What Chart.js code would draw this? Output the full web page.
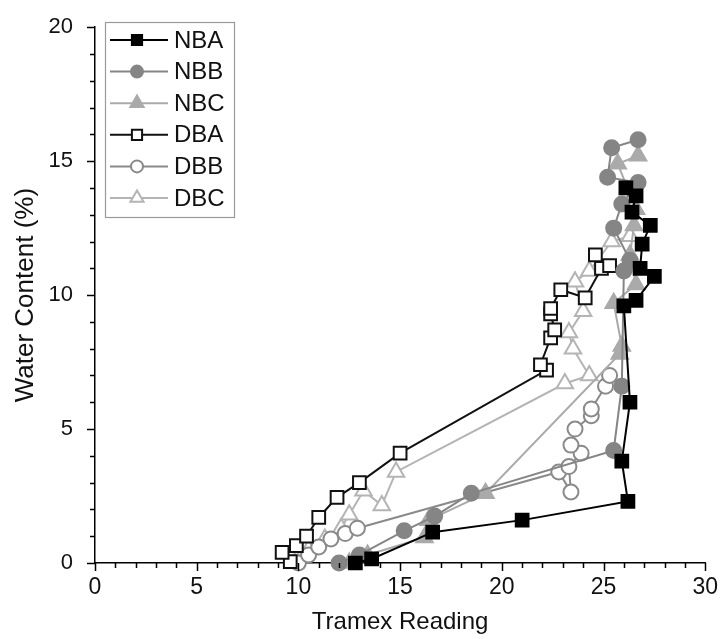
<!DOCTYPE html>
<html>
<head>
<meta charset="utf-8">
<script src="https://cdn.jsdelivr.net/npm/chart.js@4"></script>
<style>
  html, body { margin: 0; padding: 0; background: #fff; }
  #wrap { width: 721px; height: 639px; }
</style>
</head>
<body>
<div id="wrap"><canvas id="c" width="721" height="639"></canvas></div>
<script>
// series names
const seriesNames = ["NBA", "NBB", "NBC", "DBA", "DBB", "DBC"];

// [Tramex reading, water content %]
const nbaX = [12.8, 13.6, 16.6, 21.0, 26.2, 25.9, 26.3, 26.0, 26.6, 27.5, 26.8, 26.9, 27.3, 26.4, 26.6, 26.1];
const nbaY = [0.0, 0.15, 1.15, 1.6, 2.3, 3.8, 6.0, 9.6, 9.8, 10.7, 11.0, 11.9, 12.6, 13.1, 13.7, 14.0];

const nbbX = [12.0, 13.0, 15.2, 16.7, 18.5, 25.5, 25.9, 26.0, 26.3, 25.5, 25.9, 26.7, 25.2, 25.4, 26.7];
const nbbY = [0.0, 0.3, 1.2, 1.75, 2.6, 4.2, 6.6, 10.9, 11.3, 12.5, 13.4, 14.2, 14.4, 15.5, 15.8];

const nbcX = [12.5, 13.4, 16.2, 16.4, 19.2, 25.8, 25.9, 25.5, 26.6, 26.3, 26.5, 26.6, 25.7, 26.7];
const nbcY = [0.0, 0.3, 0.95, 1.6, 2.6, 7.8, 8.1, 9.7, 10.4, 11.5, 12.6, 13.2, 14.9, 15.2];

const dbaX = [9.6, 9.2, 9.9, 10.4, 11.0, 11.9, 13.0, 15.0, 22.2, 21.9, 22.4, 22.6, 22.4, 22.4, 22.9, 24.1, 24.9, 25.3, 24.6];
const dbaY = [0.05, 0.4, 0.65, 1.0, 1.7, 2.45, 3.0, 4.1, 7.2, 7.4, 8.4, 8.7, 9.3, 9.5, 10.2, 9.9, 11.0, 11.1, 11.5];

const dbbX = [10.0, 10.5, 11.0, 11.6, 12.3, 12.9, 22.8, 23.4, 23.3, 23.9, 23.4, 23.6, 24.4, 24.4, 25.1, 25.3];
const dbbY = [0.0, 0.3, 0.6, 0.9, 1.1, 1.3, 3.4, 2.65, 3.6, 4.1, 4.4, 5.0, 5.5, 5.75, 6.6, 7.0];

const dbcX = [9.9, 10.5, 11.3, 12.1, 12.5, 13.2, 14.1, 14.8, 23.1, 24.3, 23.5, 23.3, 24.0, 23.6, 24.3, 25.4, 26.3];
const dbcY = [0.1, 0.5, 0.9, 1.3, 1.8, 2.7, 2.15, 3.4, 6.7, 7.0, 8.0, 8.6, 9.4, 10.5, 10.9, 12.0, 12.2];

const xTicks = [0, 5, 10, 15, 20, 25, 30];
const yTicks = [0, 5, 10, 15, 20];

const FONT = "'Liberation Sans', Arial, sans-serif";

function pts(xs, ys) {
  return xs.map((x, i) => ({ x: x, y: ys[i] }));
}

// style per series: marker, fill, line colour
const styles = [
  { shape: "rect",     fill: "#000000", stroke: "#000000", line: "#000000", r: 9 },
  { shape: "circle",   fill: "#858585", stroke: "#858585", line: "#858585", r: 7.5 },
  { shape: "triangle", fill: "#aaaaaa", stroke: "#aaaaaa", line: "#aaaaaa", r: 9.5 },
  { shape: "rect",     fill: "#ffffff", stroke: "#111111", line: "#111111", r: 9 },
  { shape: "circle",   fill: "#ffffff", stroke: "#8a8a8a", line: "#8a8a8a", r: 7.5 },
  { shape: "triangle", fill: "#ffffff", stroke: "#b4b4b4", line: "#b4b4b4", r: 9.5 }
];

const allData = [pts(nbaX, nbaY), pts(nbbX, nbbY), pts(nbcX, nbcY),
                 pts(dbaX, dbaY), pts(dbbX, dbbY), pts(dbcX, dbcY)];

const datasets = seriesNames.map((name, i) => ({
  label: name,
  data: allData[i],
  showLine: true,
  borderColor: styles[i].line,
  borderWidth: 2,
  pointStyle: styles[i].shape,
  pointRadius: styles[i].r,
  pointBackgroundColor: styles[i].fill,
  pointBorderColor: styles[i].stroke,
  pointBorderWidth: 2,
  clip: false,
  order: i
}));

// ticks (major + minor) and legend box
const decor = {
  id: "decor",
  afterDraw(chart) {
    const ctx = chart.ctx;
    const xs = chart.scales.x, ys = chart.scales.y;
    const area = chart.chartArea;
    ctx.save();
    ctx.strokeStyle = "#000";
    ctx.lineWidth = 1.5;
    ctx.beginPath();
    for (let v = 0; v <= 30; v++) {
      const px = Math.round(xs.getPixelForValue(v)) + 0.5;
      const len = v % 5 === 0 ? 8 : 5;
      ctx.moveTo(px, area.bottom);
      ctx.lineTo(px, area.bottom + len);
    }
    for (let v = 0; v <= 20; v++) {
      const py = Math.round(ys.getPixelForValue(v)) + 0.5;
      const len = v % 5 === 0 ? 8 : 5;
      ctx.moveTo(area.left, py);
      ctx.lineTo(area.left - len, py);
    }
    ctx.stroke();

    // legend
    const lx = 105, ly = 22, lw = 129, lh = 195;
    ctx.strokeStyle = "#9a9a9a";
    ctx.lineWidth = 1.2;
    ctx.strokeRect(lx + 0.5, ly + 0.5, lw, lh);
    ctx.font = "24px " + FONT;
    ctx.textBaseline = "middle";
    seriesNames.forEach((name, i) => {
      const y = 40 + i * 31.6;
      const s = styles[i];
      ctx.strokeStyle = s.line;
      ctx.lineWidth = 2;
      ctx.beginPath();
      ctx.moveTo(110, y);
      ctx.lineTo(168, y);
      ctx.stroke();
      ctx.fillStyle = s.fill;
      ctx.strokeStyle = s.stroke;
      Chart.helpers.drawPoint(ctx, { pointStyle: s.shape, radius: s.r * 0.8, borderWidth: 2, rotation: 0 }, 137, y);
      ctx.fillStyle = "#111";
      ctx.fillText(name, 174, y + 1);
    });
    ctx.restore();
  }
};

new Chart(document.getElementById("c"), {
  type: "scatter",
  data: { datasets: datasets },
  options: {
    responsive: false,
    animation: false,
    devicePixelRatio: 1,
    layout: { padding: { top: 25, right: 13, left: 0, bottom: 0 } },
    plugins: { legend: { display: false }, tooltip: { enabled: false } },
    scales: {
      x: {
        type: "linear",
        min: 0, max: 30,
        afterBuildTicks: s => { s.ticks = xTicks.map(v => ({ value: v })); },
        grid: { display: false },
        border: { display: true, color: "#000", width: 1.5 },
        ticks: { padding: 3, color: "#111", font: { family: FONT, size: 23 }, maxRotation: 0 },
        title: { display: true, text: "Tramex Reading", color: "#111", font: { family: FONT, size: 24 }, padding: { top: 0, bottom: 2 } },
        afterFit: s => { s.height = 76; }
      },
      y: {
        type: "linear",
        min: 0, max: 20,
        afterBuildTicks: s => { s.ticks = yTicks.map(v => ({ value: v })); },
        grid: { display: false },
        border: { display: true, color: "#000", width: 1.5 },
        ticks: { padding: 14, color: "#111", font: { family: FONT, size: 22 } },
        title: { display: true, text: "Water Content (%)", color: "#111", font: { family: FONT, size: 26 }, padding: { top: 10, bottom: 6 } },
        afterFit: s => { s.width = 95; }
      }
    }
  },
  plugins: [decor]
});
</script>
</body>
</html>
